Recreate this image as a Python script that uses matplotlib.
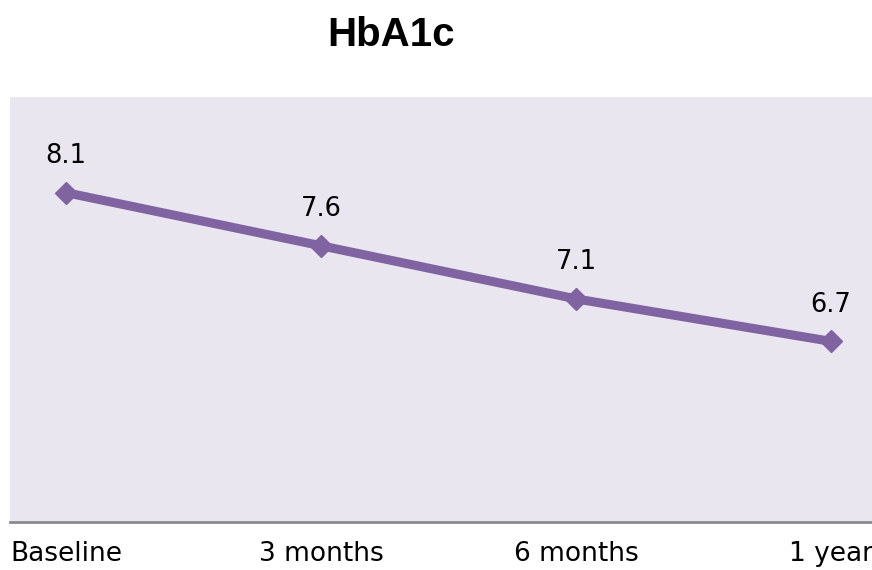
import matplotlib
matplotlib.use("Agg")
import matplotlib.pyplot as plt

# data
periods = ["Baseline", "3 months", "6 months", "1 year"]
hba1c = [8.1, 7.6, 7.1, 6.7]

W, H = 872, 570
fig = plt.figure(figsize=(W / 100, H / 100), dpi=100)
fig.patch.set_facecolor("white")

# plot area in pixel terms
ax = fig.add_axes([10 / W, 1 - 522 / H, 862 / W, (522 - 97) / H])
ax.set_facecolor("#e9e6ef")

xs = list(range(len(periods)))
ax.plot(xs, hba1c, color="#8064a2", lw=6.5, marker="D", markersize=11,
        solid_capstyle="butt", zorder=3)

for x, v in zip(xs, hba1c):
    ax.annotate(f"{v:.1f}", (x, v), xytext=(0, 17), textcoords="offset points",
                ha="center", va="bottom", fontsize=18.5, family="DejaVu Sans")

ax.set_xlim(-56 / 255, (872 - 66) / 255)
ax.set_ylim(5, 9)

ax.set_xticks(xs)
ax.set_xticklabels(periods, fontsize=19, family="DejaVu Sans")
ax.tick_params(axis="x", length=0, pad=14)
ax.set_yticks([])

for s in ["top", "left", "right"]:
    ax.spines[s].set_visible(False)
ax.spines["bottom"].set_color("#8a8a8a")
ax.spines["bottom"].set_linewidth(2)

fig.text(391 / W, 1 - 35 / H, "HbA1c", ha="center", va="center",
         fontsize=29, fontweight="bold", family="Liberation Sans")

fig.savefig("out.png", dpi=100)
